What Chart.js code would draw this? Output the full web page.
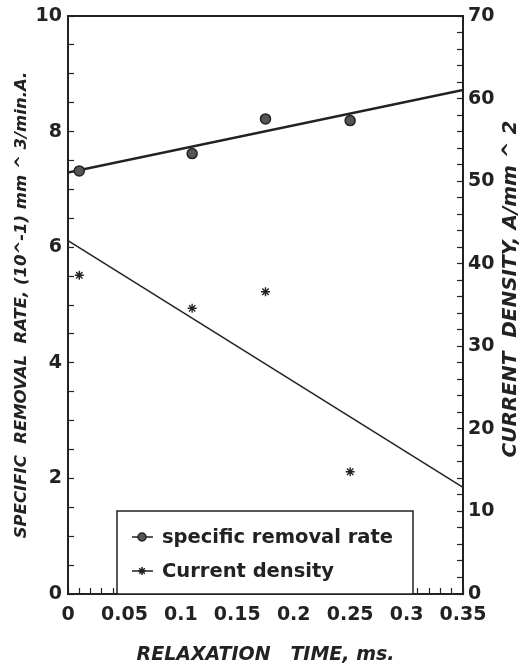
<!DOCTYPE html>
<html>
<head>
<meta charset="utf-8">
<script src="https://cdn.jsdelivr.net/npm/chart.js@4.4.0/dist/chart.umd.min.js"></script>
<style>
  html, body { margin: 0; padding: 0; background: #fff; }
  #wrap { width: 525px; height: 667px; }
</style>
</head>
<body>
<div id="wrap"><canvas id="chart" width="525" height="667"></canvas></div>
<script>
// values
var relaxTime = [0.01, 0.11, 0.175, 0.25];
var removalRate = [7.32, 7.62, 8.22, 8.19];
var currentDensity = [38.6, 34.6, 36.6, 14.8];
var fitTime = [0, 0.35];
var removalFit = [7.29, 8.72];
var densityFit = [42.8, 12.9];
var rateTicks = [0, 2, 4, 6, 8, 10];
var densityTicks = [0, 10, 20, 30, 40, 50, 60, 70];
var timeTicks = [0, 0.05, 0.1, 0.15, 0.2, 0.25, 0.3, 0.35];

var ink = '#222';
var tickFont = { family: 'DejaVu Sans', weight: 'bold', size: 19 };

function pts(xs, ys) {
    var out = [];
    for (var i = 0; i < xs.length; i++) out.push({ x: xs[i], y: ys[i] });
    return out;
}

function labelFrom(list) {
    return function(value) {
        for (var i = 0; i < list.length; i++) {
            if (Math.abs(value - list[i]) < 1e-6) return String(list[i]);
        }
        return '';
    };
}

// fixed axis sizes so the plot box lands where the scan has it
function sizeTo(w, h) {
    return function(s) {
        if (w) s.width = w;
        if (h) s.height = h;
        s.paddingTop = 0; s.paddingBottom = 0;
        s.paddingLeft = 0; s.paddingRight = 0;
    };
}

var extras = {
    id: 'extras',
    afterDraw: function(chart) {
        var ctx = chart.ctx, a = chart.chartArea;
        ctx.save();
        // frame
        ctx.strokeStyle = ink;
        ctx.lineWidth = 2;
        ctx.strokeRect(a.left, a.top, a.right - a.left, a.bottom - a.top);

        // right axis title, reading upwards
        ctx.fillStyle = ink;
        ctx.font = 'italic bold 20px "DejaVu Sans"';
        ctx.textAlign = 'center';
        ctx.textBaseline = 'middle';
        ctx.save();
        ctx.translate(511, (a.top + a.bottom) / 2 - 16);
        ctx.rotate(-Math.PI / 2);
        ctx.fillText('CURRENT  DENSITY, A/mm ^ 2', 0, 0);
        ctx.restore();

        // legend box
        var bx = a.left + 49, bw = 296, bh = 83, by = a.bottom - bh;
        ctx.fillStyle = '#fff';
        ctx.fillRect(bx, by, bw, bh);
        ctx.lineWidth = 1.5;
        ctx.strokeRect(bx, by, bw, bh);
        var ds = chart.data.datasets;
        var rows = [[ds[0], by + 26], [ds[2], by + 60]];
        ctx.font = 'bold 19.5px "DejaVu Sans"';
        ctx.textAlign = 'left';
        rows.forEach(function(r) {
            var d = r[0], y = r[1];
            ctx.strokeStyle = ink;
            ctx.lineWidth = 1.5;
            ctx.beginPath();
            ctx.moveTo(bx + 15, y);
            ctx.lineTo(bx + 36, y);
            ctx.stroke();
            ctx.fillStyle = d.pointBackgroundColor;
            ctx.strokeStyle = d.pointBorderColor;
            Chart.helpers.drawPoint(ctx, {
                pointStyle: d.pointStyle, radius: 4, borderWidth: d.pointBorderWidth, rotation: 0
            }, bx + 25, y);
            ctx.fillStyle = ink;
            ctx.fillText(d.label, bx + 45, y + 1);
        });
        ctx.restore();
    }
};

new Chart(document.getElementById('chart'), {
    type: 'scatter',
    data: {
        datasets: [{
            label: 'specific removal rate',
            data: pts(relaxTime, removalRate),
            yAxisID: 'y',
            pointStyle: 'circle',
            pointRadius: 5,
            pointBorderWidth: 1.5,
            pointBackgroundColor: '#555',
            pointBorderColor: '#222'
        }, {
            label: 'rate fit',
            data: pts(fitTime, removalFit),
            yAxisID: 'y',
            showLine: true,
            borderColor: ink,
            borderWidth: 2.5,
            pointRadius: 0
        }, {
            label: 'Current density',
            data: pts(relaxTime, currentDensity),
            yAxisID: 'y2',
            pointStyle: 'star',
            pointRadius: 4.5,
            pointBorderWidth: 1.4,
            pointBackgroundColor: '#222',
            pointBorderColor: '#222'
        }, {
            label: 'density fit',
            data: pts(fitTime, densityFit),
            yAxisID: 'y2',
            showLine: true,
            borderColor: ink,
            borderWidth: 1.5,
            pointRadius: 0
        }]
    },
    options: {
        responsive: false,
        animation: false,
        layout: { padding: { top: 16, left: 0, right: 0, bottom: 0 } },
        plugins: { legend: { display: false }, tooltip: { enabled: false } },
        scales: {
            x: {
                type: 'linear',
                min: 0,
                max: 0.35,
                afterFit: sizeTo(0, 73),
                border: { color: ink, width: 2 },
                grid: { drawOnChartArea: false, tickLength: -6, tickColor: ink, tickWidth: 1.2 },
                ticks: {
                    stepSize: 0.01, autoSkip: false, maxRotation: 0, padding: 16,
                    color: ink, font: tickFont, callback: labelFrom(timeTicks)
                },
                title: {
                    display: true, text: 'RELAXATION   TIME, ms.', color: ink,
                    font: { family: 'DejaVu Sans', weight: 'bold', style: 'italic', size: 19 },
                    padding: { top: 0, bottom: 1 }
                }
            },
            y: {
                position: 'left',
                min: 0,
                max: 10,
                afterFit: sizeTo(68, 0),
                border: { color: ink, width: 2 },
                grid: { drawOnChartArea: false, tickLength: -6, tickColor: ink, tickWidth: 1.2 },
                ticks: {
                    stepSize: 0.5, autoSkip: false, padding: 12,
                    color: ink, font: tickFont, callback: labelFrom(rateTicks)
                },
                title: {
                    display: true, text: 'SPECIFIC  REMOVAL  RATE, (10^-1) mm ^ 3/min.A.',
                    color: ink,
                    font: { family: 'DejaVu Sans', weight: 'bold', style: 'italic', size: 16.5 },
                    padding: { top: 12, bottom: 0 }
                }
            },
            y2: {
                position: 'right',
                min: 0,
                max: 70,
                afterFit: sizeTo(62, 0),
                border: { color: ink, width: 2 },
                grid: { drawOnChartArea: false, tickLength: -6, tickColor: ink, tickWidth: 1.2 },
                ticks: {
                    stepSize: 2, autoSkip: false, padding: 11,
                    color: ink, font: tickFont, callback: labelFrom(densityTicks)
                }
            }
        }
    },
    plugins: [extras]
});
</script>
</body>
</html>
